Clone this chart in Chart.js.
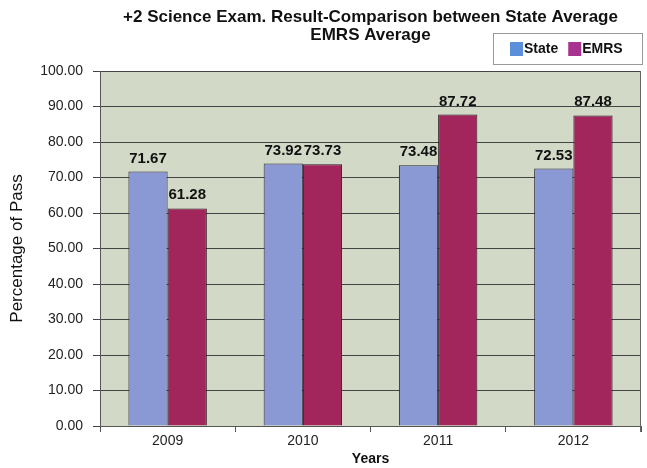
<!DOCTYPE html>
<html>
<head>
<meta charset="utf-8">
<script src="https://cdn.jsdelivr.net/npm/chart.js@4"></script>
<style>
  body { margin: 0; background: #fff; }
</style>
</head>
<body>
<canvas id="canvas" width="647" height="468"></canvas>
<script>
const years = ['2009', '2010', '2011', '2012']
const stateAvg = [71.67, 73.92, 73.48, 72.53]
const emrsAvg = [61.28, 73.73, 87.72, 87.48]
const titleLines = ['+2 Science Exam. Result-Comparison between State Average', 'EMRS Average']
const legendSwatches = ['#5b8fd9', '#a8328f']

const FONT = '"Liberation Sans", Arial, sans-serif'

// plot background, outline, title and the boxed legend
const decor = {
  id: 'decor',
  beforeDraw(chart) {
    const { ctx, chartArea: a } = chart
    ctx.save()
    ctx.fillStyle = '#d2d9c7'
    ctx.fillRect(a.left, a.top, a.right - a.left, a.bottom - a.top)
    ctx.restore()
  },
  afterDraw(chart) {
    const { ctx, chartArea: a } = chart
    ctx.save()
    ctx.strokeStyle = '#666'
    ctx.lineWidth = 1
    ctx.beginPath()
    ctx.moveTo(a.right - 0.5, a.top)
    ctx.lineTo(a.right - 0.5, a.bottom + 6)
    ctx.stroke()

    // title centred over the plot
    ctx.fillStyle = '#111'
    ctx.font = 'bold 17px ' + FONT
    ctx.textAlign = 'center'
    ctx.textBaseline = 'middle'
    const cx = (a.left + a.right) / 2
    ctx.fillText(titleLines[0], cx, 17)
    ctx.fillText(titleLines[1], cx, 35)

    // legend box
    const bx = 493, by = 33, bw = 149, bh = 31
    ctx.fillStyle = '#fff'
    ctx.fillRect(bx, by, bw, bh)
    ctx.strokeStyle = '#999'
    ctx.strokeRect(bx + 0.5, by + 0.5, bw, bh)
    ctx.font = 'bold 14px ' + FONT
    ctx.textAlign = 'left'
    let x = bx + 17
    chart.data.datasets.forEach((ds, i) => {
      ctx.fillStyle = legendSwatches[i]
      ctx.fillRect(x, by + 9, 13, 14)
      ctx.fillStyle = '#111'
      ctx.fillText(ds.label, x + 14, by + 16.5)
      x += 14 + ctx.measureText(ds.label).width + 10
    })
    ctx.restore()
  },
  afterDatasetsDraw(chart) {
    const { ctx } = chart
    ctx.save()
    ctx.fillStyle = '#111'
    ctx.font = 'bold 15px ' + FONT
    ctx.textAlign = 'center'
    ctx.textBaseline = 'alphabetic'
    chart.data.datasets.forEach((ds, i) => {
      chart.getDatasetMeta(i).data.forEach((bar, j) => {
        ctx.fillText(ds.data[j].toFixed(2), bar.x, bar.y - 9)
      })
    })
    ctx.restore()
  }
}

const data = {
  labels: years,
  datasets: [
    {
      label: 'State',
      data: stateAvg,
      backgroundColor: '#8a98d3',
      borderColor: '#2a2a3a',
      borderWidth: 1,
    },
    {
      label: 'EMRS',
      data: emrsAvg,
      backgroundColor: '#a2255c',
      borderColor: '#2a1a20',
      borderWidth: 1,
    },
  ],
}

const config = {
  type: 'bar',
  data: data,
  options: {
    responsive: false,
    animation: false,
    layout: { padding: { top: 71, right: 6, left: 0, bottom: 0 } },
    categoryPercentage: 0.58,
    barPercentage: 1,
    plugins: {
      legend: { display: false },
      title: { display: false },
      tooltip: { enabled: false },
    },
    scales: {
      x: {
        afterFit: s => { s.height = 42 },
        grid: { drawOnChartArea: false, drawTicks: true, tickLength: 6, color: '#555' },
        border: { color: '#555' },
        ticks: { color: '#222', font: { family: FONT, size: 14 }, padding: 1 },
        title: {
          display: true,
          text: 'Years',
          color: '#111',
          font: { family: FONT, size: 14, weight: 'bold' },
          padding: { top: 0, bottom: 0 },
        },
      },
      y: {
        min: 0,
        max: 100,
        afterFit: s => { s.width = 100 },
        ticks: {
          stepSize: 10,
          color: '#222',
          font: { family: FONT, size: 14 },
          padding: 10,
          callback: v => v.toFixed(2),
        },
        grid: { color: '#444', tickLength: 7 },
        border: { color: '#555' },
        title: {
          display: true,
          text: 'Percentage of Pass',
          color: '#111',
          font: { family: FONT, size: 17 },
          padding: { top: 7, bottom: 0 },
        },
      },
    },
  },
  plugins: [decor],
}

const canvas = document.getElementById('canvas')
const chart = new Chart(canvas, config)
</script>
</body>
</html>
